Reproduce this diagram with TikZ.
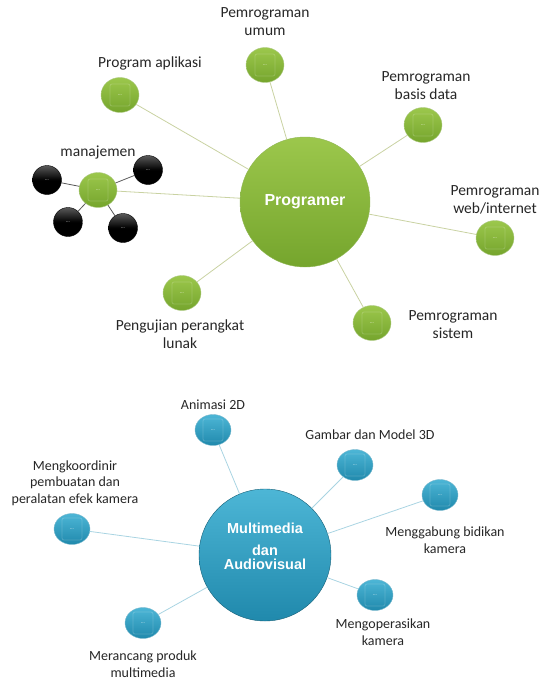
\documentclass[tikz,border=0pt]{standalone}
\usepackage{fontspec}
\setmainfont{Carlito}
\newfontfamily\headfont{Liberation Sans}
\usetikzlibrary{shapes.geometric}

\definecolor{gLight}{HTML}{9CC74C}
\definecolor{gDark}{HTML}{75A52D}
\definecolor{gLine}{HTML}{C9D2A2}
\definecolor{bLight}{HTML}{4DB6D6}
\definecolor{bDark}{HTML}{2089AC}
\definecolor{bLine}{HTML}{A9D4E2}
\definecolor{txt}{HTML}{262626}

\begin{document}
\begin{tikzpicture}[x=1pt, y=-1pt,
  hubG/.style={circle, minimum size=130pt, inner sep=0pt, top color=gLight, bottom color=gDark,
    draw=gDark!80, text=white, font=\headfont\bfseries\fontsize{16}{19}\selectfont},
  hubB/.style={circle, minimum size=132pt, inner sep=0pt, top color=bLight, bottom color=bDark,
    draw=bDark!70!black, text=white, align=center, font=\headfont\bfseries\fontsize{14.5}{14}\selectfont},
  bevel/.style={path picture={\draw[white, opacity=0.18, line width=0.8pt, rounded corners=2pt]
    ([xshift=-10pt,yshift=-11pt]path picture bounding box.center) rectangle
    ([xshift=10pt,yshift=11pt]path picture bounding box.center);}},
  leafG/.style={ellipse, minimum width=38pt, minimum height=35pt, inner sep=0pt, bevel,
    top color=gLight, bottom color=gDark, draw=gDark!60, text=white, font=\fontsize{5}{5}\selectfont},
  leafB/.style={ellipse, minimum width=36pt, minimum height=31pt, inner sep=0pt, bevel,
    top color=bLight, bottom color=bDark, draw=bDark!60, text=white, font=\fontsize{5}{5}\selectfont},
  leafK/.style={circle, minimum size=29pt, inner sep=0pt, top color=black!65, bottom color=black,
    middle color=black, draw=black, text=white, font=\fontsize{5}{5}\selectfont},
  lblG/.style={align=center, text=txt, font=\fontsize{15.5}{18}\selectfont},
  lblB/.style={align=center, text=txt, font=\fontsize{14}{16.5}\selectfont},
  linkG/.style={gLine, line width=0.8pt},
  linkB/.style={bLine, line width=0.8pt},
  linkK/.style={black!65, line width=0.8pt}]

  \useasboundingbox (0,0) rectangle (545,682);

  % Programer tree
  \node[hubG] (prog) at (305,202) {Programer};

  \node[leafG] (umum) at (265,65) {...};
  \node[lblG] (lumum) at (265,22) {Pemrograman\\umum};
  \node[leafG] (aplikasi) at (120,95) {...};
  \node[lblG] (laplikasi) at (150,63) {Program aplikasi};
  \node[leafG] (basis) at (423,125) {...};
  \node[lblG] (lbasis) at (426,86) {Pemrograman\\basis data};
  \node[leafG] (manaj) at (98,190) {...};
  \node[lblG] (lmanaj) at (98,152) {manajemen};
  \node[leafG] (web) at (495,238) {...};
  \node[lblG] (lweb) at (495,200) {Pemrograman\\web/internet};
  \node[leafG] (sistem) at (372,323) {...};
  \node[lblG] (lsistem) at (453,325) {Pemrograman\\sistem};
  \node[leafG] (uji) at (182,293) {...};
  \node[lblG] (luji) at (180,334) {Pengujian perangkat\\lunak};

  \foreach \leaf in {umum,aplikasi,basis,manaj,web,sistem,uji}
    \draw[linkG] (prog) -- (\leaf);

  % manajemen sub-nodes
  \node[leafK] (k1) at (47,180) {...};
  \node[leafK] (k2) at (148,170) {...};
  \node[leafK] (k3) at (68,222) {...};
  \node[leafK] (k4) at (123,228) {...};
  \foreach \k in {k1,k2,k3,k4}
    \draw[linkK] (manaj) -- (\k);

  % Multimedia tree
  \node[hubB] (mm) at (265,555) {Multimedia\\[8pt]dan\\Audiovisual\\[4pt]\mbox{}};

  \node[leafB] (anim) at (213,430) {...};
  \node[lblB] (lanim) at (213,405) {Animasi 2D};
  \node[leafB] (gambar) at (355,465) {...};
  \node[lblB] (lgambar) at (370,435) {Gambar dan Model 3D};
  \node[leafB] (gabung) at (440,495) {...};
  \node[lblB] (lgabung) at (445,540) {Menggabung bidikan\\kamera};
  \node[leafB] (operasi) at (375,595) {...};
  \node[lblB] (loperasi) at (383,632) {Mengoperasikan\\kamera};
  \node[leafB] (rancang) at (143,623) {...};
  \node[lblB] (lrancang) at (143,664) {Merancang produk\\multimedia};
  \node[leafB] (koord) at (72,529) {...};
  \node[lblB] (lkoord) at (75,483) {Mengkoordinir\\pembuatan dan\\peralatan efek kamera};

  \foreach \leaf in {anim,gambar,gabung,operasi,rancang,koord}
    \draw[linkB] (mm) -- (\leaf);
\end{tikzpicture}
\end{document}
